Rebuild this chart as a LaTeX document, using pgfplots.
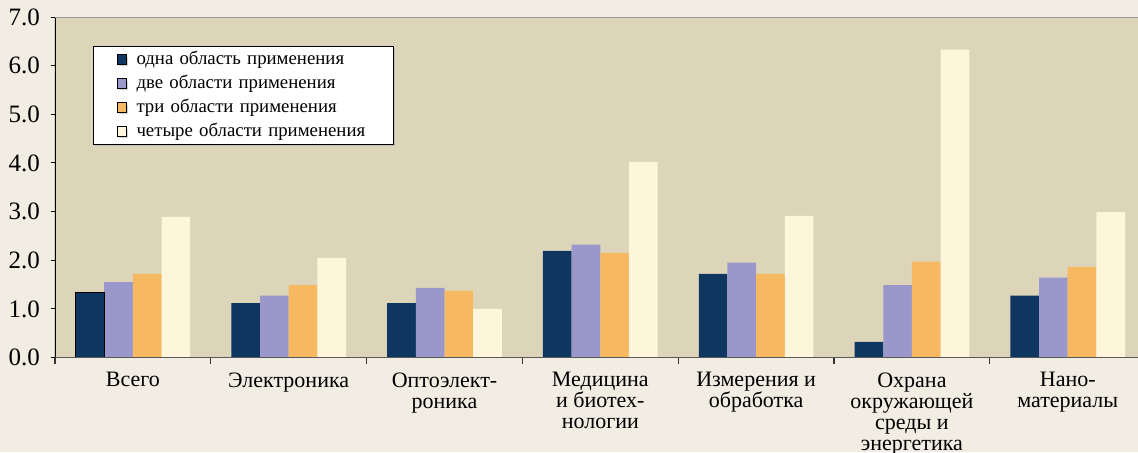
\documentclass[border=0pt]{standalone}
\usepackage{fontspec}
\setmainfont{LiberationSerif}[Extension=.ttf, UprightFont=*-Regular, BoldFont=*-Bold, ItalicFont=*-Italic, BoldItalicFont=*-BoldItalic]
\usepackage{pgfplots}
\pgfplotsset{compat=1.18}
\usetikzlibrary{shadows}
\definecolor{outerbg}{HTML}{F1EDE3}
\definecolor{plotbg}{HTML}{DCD5B9}
\definecolor{cA}{HTML}{0F3661}
\definecolor{cB}{HTML}{9A98CB}
\definecolor{cC}{HTML}{F7B862}
\definecolor{cD}{HTML}{FEF6DB}
\begin{document}
\begin{tikzpicture}
\path[use as bounding box, fill=outerbg] (-27.5pt,-47.25pt) rectangle (541.5pt,178.75pt);
\begin{axis}[
  at={(0,0)}, anchor=south west,
  scale only axis, width=541.5pt, height=170.25pt,
  xmin=-0.5, xmax=6.451, ymin=0, ymax=7,
  axis line style={draw=none},
  axis background/.style={fill=plotbg},
  tick align=outside,
  xtick pos=bottom, ytick pos=left,
  ytick={0,1,...,7},
  major tick length=2pt,
  tick style={black, line width=0.5pt},
  yticklabel style={font=\fontsize{12.5}{12.5}\selectfont, xshift=-2pt,
    /pgf/number format/fixed, /pgf/number format/fixed zerofill,
    /pgf/number format/precision=1, /pgf/number format/assume math mode=true},
  xtick={0,...,6},
  xtick style={draw=none},
  xticklabels={Всего, Электроника, {Оптоэлект-\\роника}, {Медицина\\и биотех-\\нологии}, {Измерения и\\обработка}, {Охрана\\окружающей\\среды и\\энергетика}, {Нано-\\материалы}},
  xticklabel style={align=center, font=\fontsize{11}{10.5}\selectfont, yshift=-2pt},
  extra x ticks={-0.5,0.5,1.5,2.5,3.5,4.5,5.5},
  extra x tick labels={},
  extra x tick style={xtick style={draw=black!80, line width=0.6pt}, major tick length=3pt},
  legend style={at={(axis description cs:0.0351,0.9148)}, anchor=north west,
    draw=black, fill=white, line width=0.5pt,
    drop shadow={shadow xshift=0.8pt, shadow yshift=-0.8pt, fill=black!35},
    font=\fontsize{9.4}{10}\selectfont, inner xsep=1pt, inner ysep=0.5pt, row sep=0pt,
    nodes={inner sep=1.5pt, text height=7pt, text depth=2pt, text width=126pt, align=left}},
  legend cell align=left,
  legend image code/.code={\path (-11pt,0pt); \draw[#1,draw=black,line width=0.5pt] (0pt,-2.3pt) rectangle (4.6pt,2.3pt); \path (8pt,0pt);},
]
\addplot[ybar, fill=cA, draw=none, bar width=0.184, bar shift=-0.276] coordinates {(0,1.34) (1,1.12) (2,1.12) (3,2.19) (4,1.72) (5,0.32) (6,1.27)};
\addplot[ybar, fill=cB, draw=none, bar width=0.184, bar shift=-0.092] coordinates {(0,1.55) (1,1.27) (2,1.43) (3,2.32) (4,1.95) (5,1.49) (6,1.64)};
\addplot[ybar, fill=cC, draw=none, bar width=0.184, bar shift=0.092] coordinates {(0,1.72) (1,1.49) (2,1.37) (3,2.15) (4,1.72) (5,1.97) (6,1.86)};
\addplot[ybar, fill=cD, draw=none, bar width=0.184, bar shift=0.276] coordinates {(0,2.89) (1,2.05) (2,1.00) (3,4.02) (4,2.91) (5,6.33) (6,2.99)};
\legend{одна область применения, две области применения, три области применения, четыре области применения}
\addplot[ybar, fill=cA, draw=black, line width=0.7pt, bar width=0.184, bar shift=-0.276, forget plot] coordinates {(0,1.34)};
\draw[black, line width=0.6pt] (rel axis cs:0,0) -- (rel axis cs:0,1);
\draw[black!40, line width=0.6pt] (rel axis cs:0,1) -- (rel axis cs:1,1);
\draw[black!65, line width=1pt] (rel axis cs:0,0) -- (rel axis cs:1,0);
\end{axis}
\end{tikzpicture}
\end{document}
